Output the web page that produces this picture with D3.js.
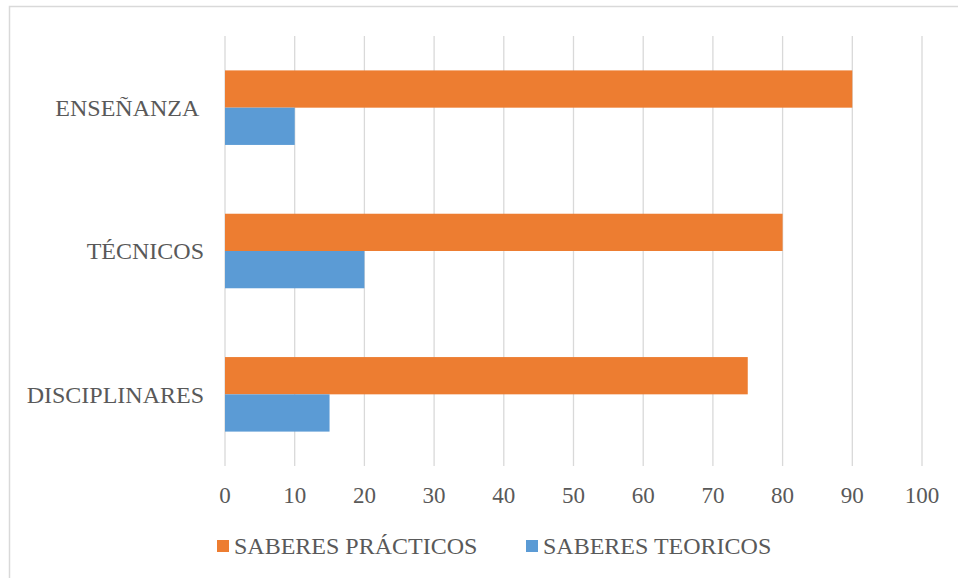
<!DOCTYPE html>
<html>
<head>
<meta charset="utf-8">
<script src="https://cdn.jsdelivr.net/npm/d3@7"></script>
<style>
  body { margin: 0; background: #fff; }
  text { font-family: "Liberation Serif", "Times New Roman", serif; fill: #595959; }
</style>
</head>
<body>
<svg id="chart" width="958" height="578"></svg>
<script>
// categories top to bottom
const categories = ['ENSEÑANZA', 'TÉCNICOS', 'DISCIPLINARES'];
const seriesNames = ['SABERES PRÁCTICOS', 'SABERES TEORICOS'];
const practicos = [90, 80, 75];
const teoricos = [10, 20, 15];
const ticks = [0, 10, 20, 30, 40, 50, 60, 70, 80, 90, 100];
const colors = ['#ed7d31', '#5b9bd5'];

let svg = d3.select('#chart');

// outer frame (right and bottom edges fall outside the picture)
svg.append('rect')
  .attr('x', 9.5).attr('y', 6.5)
  .attr('width', 1000).attr('height', 1000)
  .attr('fill', 'none')
  .attr('stroke', '#d9d9d9')
  .attr('stroke-width', 1.5);

let x = d3.scaleLinear().domain([0, 100]).range([225, 922]);
let y = d3.scaleBand().domain(categories).range([36, 466]).paddingInner(0.48).paddingOuter(0.24);
let sub = d3.scaleBand().domain(seriesNames).range([0, y.bandwidth()]);

// gridlines
svg.append('g')
  .selectAll('line')
  .data(ticks)
  .enter().append('line')
  .attr('x1', d => x(d)).attr('x2', d => x(d))
  .attr('y1', 36).attr('y2', 466)
  .attr('stroke', '#d9d9d9')
  .attr('stroke-width', 1.3);

// tick labels
svg.append('g')
  .selectAll('text')
  .data(ticks)
  .enter().append('text')
  .attr('x', d => x(d))
  .attr('y', 495)
  .attr('dy', '0.35em')
  .attr('text-anchor', 'middle')
  .attr('font-size', 23)
  .text(d => d);

// bars
let rows = categories.map((c, i) => ({ cat: c, vals: [practicos[i], teoricos[i]] }));
let groups = svg.append('g')
  .selectAll('g')
  .data(rows)
  .enter().append('g')
  .attr('transform', d => 'translate(0,' + y(d.cat) + ')');

groups.selectAll('rect')
  .data(d => d.vals.map((v, j) => ({ name: seriesNames[j], v: v, c: colors[j] })))
  .enter().append('rect')
  .attr('x', x(0))
  .attr('y', d => sub(d.name))
  .attr('width', d => x(d.v) - x(0))
  .attr('height', sub.bandwidth())
  .attr('fill', d => d.c);

// category labels
svg.append('g')
  .selectAll('text')
  .data(categories)
  .enter().append('text')
  .attr('x', 204)
  .attr('y', d => y(d) + y.bandwidth() / 2)
  .attr('dy', '0.35em')
  .attr('text-anchor', 'end')
  .attr('font-size', 24)
  .style('white-space', 'pre')
  .text(d => d === 'ENSEÑANZA' ? d + ' ' : d);

// legend
let legendX = [217, 526];
let legend = svg.append('g')
  .selectAll('g')
  .data(seriesNames)
  .enter().append('g')
  .attr('transform', (d, i) => 'translate(' + legendX[i] + ',540)');

legend.append('rect')
  .attr('width', 12).attr('height', 12)
  .attr('fill', (d, i) => colors[i]);

legend.append('text')
  .attr('x', 17)
  .attr('y', 6)
  .attr('dy', '0.35em')
  .attr('font-size', 24)
  .text(d => d);
</script>
</body>
</html>
